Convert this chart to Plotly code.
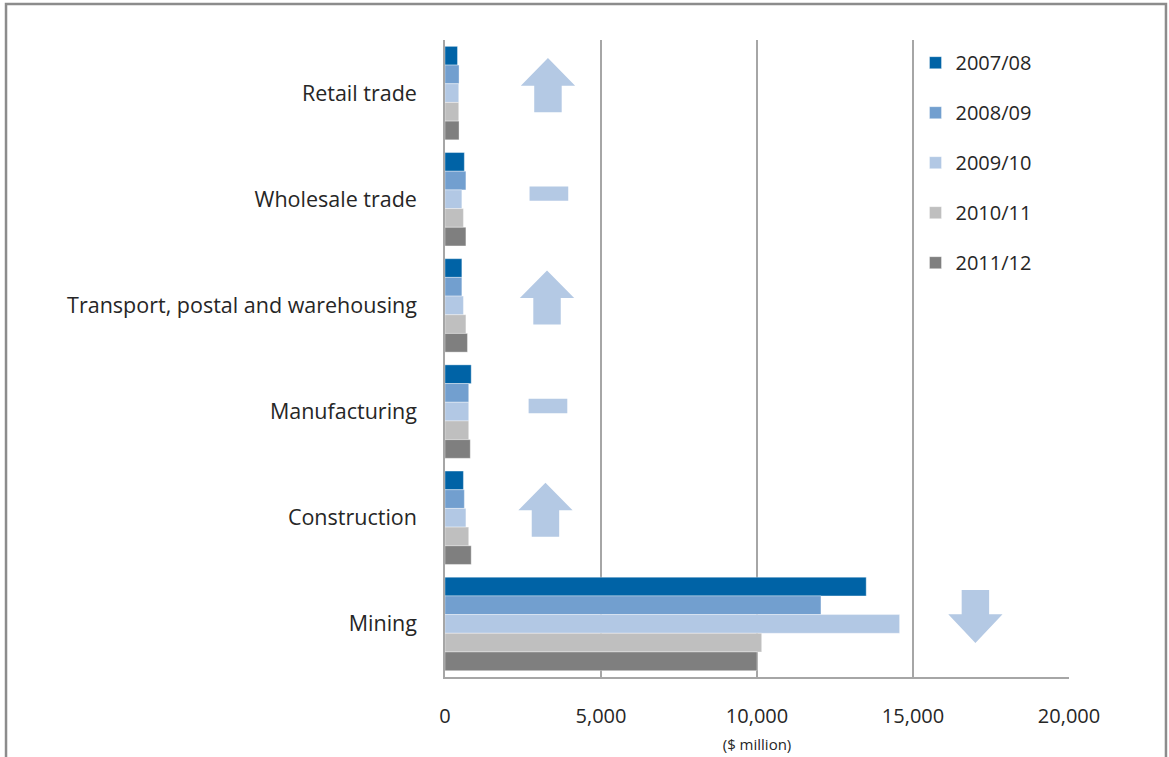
import plotly.graph_objects as go

# Industry categories, listed top to bottom
industries = ["Retail trade", "Wholesale trade", "Transport, postal and warehousing",
              "Manufacturing", "Construction", "Mining"]
years = ["2007/08", "2008/09", "2009/10", "2010/11", "2011/12"]

# Values in $ million, one list per financial year (same order as industries)
v_2007_08 = [400, 620, 540, 840, 590, 13500]
v_2008_09 = [450, 670, 540, 760, 620, 12050]
v_2009_10 = [440, 540, 590, 760, 670, 14570]
v_2010_11 = [440, 590, 670, 760, 760, 10150]
v_2011_12 = [450, 670, 720, 810, 840, 10000]
series = [v_2007_08, v_2008_09, v_2009_10, v_2010_11, v_2011_12]

colors = ["#0063A6", "#729FCF", "#B2C8E4", "#BFBFBF", "#7F7F7F"]

# Trend indicators: (industry, direction, x position in $ million)
trends = [
    ("Retail trade", "up", 3300),
    ("Wholesale trade", "flat", 3330),
    ("Transport, postal and warehousing", "up", 3270),
    ("Manufacturing", "flat", 3300),
    ("Construction", "up", 3220),
    ("Mining", "down", 17000),
]

x_ticks = [0, 5000, 10000, 15000, 20000]
x_tick_text = ["0", "5,000", "10,000", "15,000", "20,000"]

FONT = "Open Sans"
TEXT = "#262626"
GRID = "#A6A6A6"
ARROW = "#B4C9E4"

fig = go.Figure()
for name, vals, col in zip(years, series, colors):
    fig.add_trace(go.Bar(
        y=industries, x=vals, name=name, orientation="h",
        marker=dict(color=col, line=dict(width=0.6, color="rgba(255,255,255,0.6)")),
        legendgroup=name,
    ))

# Arrow / dash shapes (x in data units, y in category index units)
HW, SW = 870, 440          # half width of arrow head / shaft
shapes = []
for ind, d, xc in trends:
    k = industries.index(ind)
    if d == "flat":
        path = (f"M{xc-620},{k-0.12} L{xc+620},{k-0.12} "
                f"L{xc+620},{k+0.015} L{xc-620},{k+0.015} Z")
    else:
        if d == "up":
            tip, wing, base = k - 0.33, k - 0.07, k + 0.18
        else:
            tip, wing, base = k + 0.18, k - 0.09, k - 0.32
        path = (f"M{xc},{tip} L{xc+HW},{wing} L{xc+SW},{wing} L{xc+SW},{base} "
                f"L{xc-SW},{base} L{xc-SW},{wing} L{xc-HW},{wing} Z")
    shapes.append(dict(type="path", path=path, xref="x", yref="y",
                       fillcolor=ARROW, line=dict(width=0), layer="above"))

# Outer frame around the chart
shapes.append(dict(type="rect", xref="paper", yref="paper",
                   x0=-0.7035, x1=1.1554, y0=-0.25, y1=1.0565,
                   line=dict(color="#8C8C8C", width=2.5), layer="below"))

fig.update_layout(
    width=1169, height=757,
    margin=dict(l=445, r=100, t=40, b=80),
    paper_bgcolor="white", plot_bgcolor="white",
    barmode="group", bargap=0.12, bargroupgap=0,
    font=dict(family=FONT, size=20, color=TEXT),
    shapes=shapes,
    legend=dict(x=0.754, y=0.995, xanchor="left", yanchor="top",
                traceorder="grouped", tracegroupgap=21,
                font=dict(size=20, color=TEXT), bgcolor="rgba(0,0,0,0)",
                itemwidth=30),
    xaxis=dict(range=[0, 20000], tickvals=x_ticks, ticktext=x_tick_text,
               showgrid=True, gridcolor=GRID, gridwidth=1.5,
               showline=True, linecolor=GRID, linewidth=1.5,
               zeroline=False, ticks="", ticklabelstandoff=20,
               tickfont=dict(size=20), automargin=False,
               title=dict(text="($ million)", font=dict(size=15, color=TEXT), standoff=12)),
    yaxis=dict(autorange="reversed", categoryorder="array", categoryarray=industries,
               showgrid=False, showline=True, linecolor=GRID, linewidth=1.5,
               ticks="", ticklabelstandoff=22, tickfont=dict(size=21.5),
               automargin=False),
)

fig.write_html("out.html")
